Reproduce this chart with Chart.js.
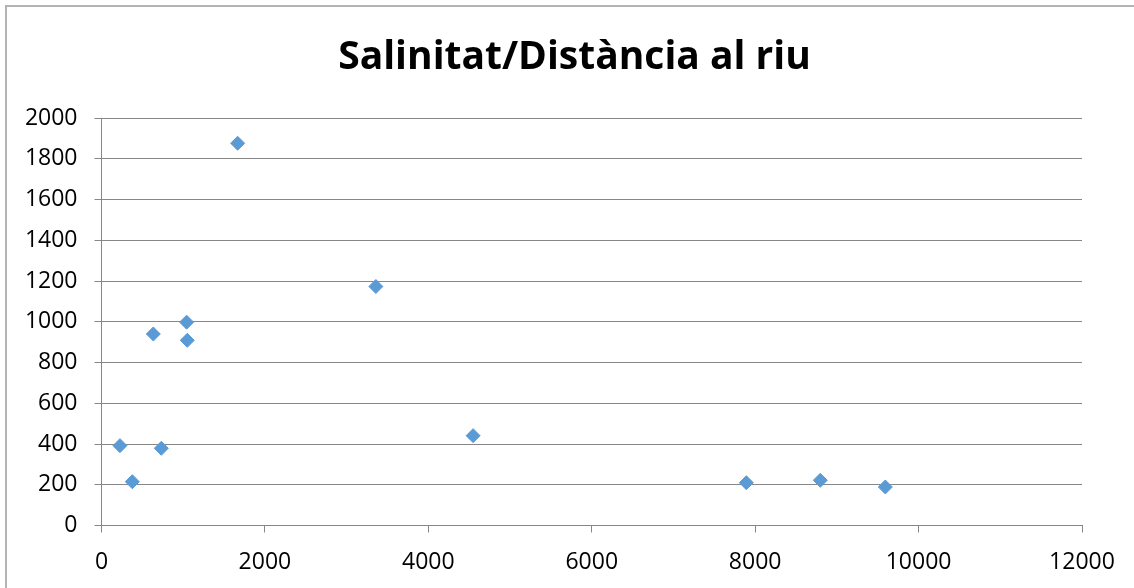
<!DOCTYPE html>
<html>
<head>
<meta charset="utf-8">
<script src="https://cdn.jsdelivr.net/npm/chart.js@4/dist/chart.umd.min.js"></script>
<style>
  html, body { margin: 0; padding: 0; background: #ffffff; }
  #wrap { position: relative; width: 1134px; height: 588px; }
</style>
</head>
<body>
<div id="wrap"><canvas id="c" width="1134" height="588"></canvas></div>
<script>
// Distance to the river (m) and salinity readings
const distancia = [226, 377, 634, 732, 1042, 1050, 1666, 3358, 4548, 7892, 8797, 9593];
const salinitat = [392, 215, 940, 379, 998, 909, 1876, 1173, 441, 210, 222, 189];

const xTicks = [0, 2000, 4000, 6000, 8000, 10000, 12000];
const yTicks = [0, 200, 400, 600, 800, 1000, 1200, 1400, 1600, 1800, 2000];

const titol = 'Salinitat/Distància al riu';

const gridGrey = '#878787';
const labelFont = { family: "'Open Sans', 'Liberation Sans', sans-serif", size: 23 };

// Outer frame of the chart object and its heading
const frame = {
  id: 'frame',
  beforeDraw(chart) {
    const ctx = chart.ctx;
    ctx.save();
    ctx.fillStyle = '#ffffff';
    ctx.fillRect(0, 0, chart.width, chart.height);
    ctx.strokeStyle = '#b3b3b3';
    ctx.lineWidth = 2;
    ctx.beginPath();
    ctx.moveTo(6, chart.height + 5);
    ctx.lineTo(6, 6);
    ctx.lineTo(chart.width + 5, 6);
    ctx.stroke();
    ctx.fillStyle = '#000000';
    ctx.font = "bold 39px 'Open Sans', 'Liberation Sans', sans-serif";
    ctx.textAlign = 'center';
    ctx.textBaseline = 'middle';
    ctx.fillText(titol, 574.5, 58);
    ctx.restore();
  }
};

const plain = v => String(v);

new Chart(document.getElementById('c'), {
  type: 'scatter',
  data: {
    datasets: [{
      data: distancia.map((d, i) => ({ x: d, y: salinitat[i] })),
      pointStyle: 'rectRot',
      pointRadius: 7,
      pointHoverRadius: 7,
      backgroundColor: '#5B9BD5',
      borderColor: '#5B9BD5',
      borderWidth: 1
    }]
  },
  options: {
    responsive: false,
    animation: false,
    events: [],
    layout: { padding: { left: 0, right: 52, top: 118, bottom: 0 } },
    plugins: {
      legend: { display: false },
      tooltip: { enabled: false },
      title: { display: false }
    },
    scales: {
      x: {
        type: 'linear',
        min: 0, max: 12000,
        afterBuildTicks: s => { s.ticks = xTicks.map(v => ({ value: v })); },
        afterFit: s => { s.height = 588 - 525.5; },
        ticks: { color: '#000000', font: labelFont, padding: 16, maxRotation: 0, callback: plain },
        grid: { drawOnChartArea: false, drawTicks: true, tickLength: 7, color: gridGrey },
        border: { color: gridGrey, width: 1 }
      },
      y: {
        type: 'linear',
        min: 0, max: 2000,
        afterBuildTicks: s => { s.ticks = yTicks.map(v => ({ value: v })); },
        afterFit: s => { s.width = 101.5; },
        ticks: { color: '#000000', font: labelFont, padding: 17, callback: plain },
        grid: { drawOnChartArea: true, drawTicks: true, tickLength: 7, color: gridGrey },
        border: { color: gridGrey, width: 1 }
      }
    }
  },
  plugins: [frame]
});
</script>
</body>
</html>
